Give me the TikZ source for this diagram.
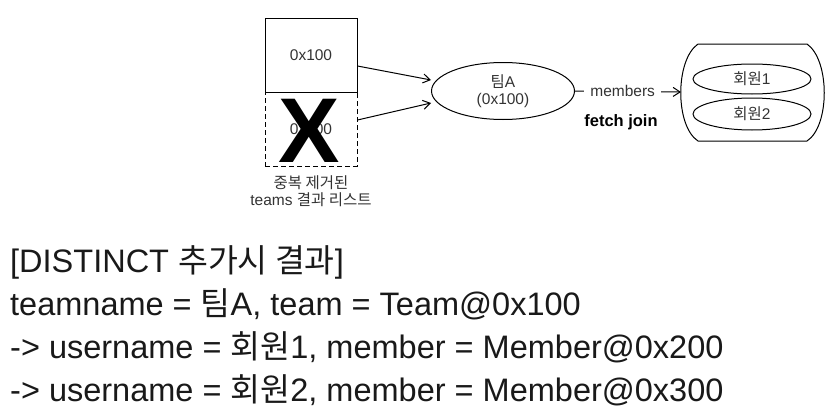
\documentclass[tikz,border=0pt]{standalone}
\usepackage{fontspec}
\setmainfont{Liberation Sans}
\newfontfamily\kr{Noto Sans CJK KR}
\usetikzlibrary{arrows.meta,shapes.geometric}
\tikzset{
  lbl/.style={font=\fontsize{15.5}{17.5}\selectfont, text=black!80, align=center, inner sep=1pt},
  big/.style={font=\fontsize{32.5}{38}\selectfont, text=black!90, anchor=base west, inner sep=0pt},
  box/.style={draw, line width=1pt, minimum width=92pt, minimum height=74pt, inner sep=0pt},
  ell/.style={draw, ellipse, line width=1pt, inner sep=0pt},
  arr/.style={line width=1pt, -{Straight Barb[length=7pt,width=9pt]}}
}
\begin{document}
\begin{tikzpicture}[x=1pt,y=-1pt]
\useasboundingbox (0,0) rectangle (833,415);
% boxes
\node[box, lbl] (b1) at (311,55) {0x100};
\node[box, lbl, dashed, dash pattern=on 5pt off 3pt] (b2) at (311,129) {0x100};
\node[font=\fontsize{92}{92}\selectfont\bfseries, inner sep=0pt, text height=64pt, text depth=0pt] (x) at (309,130) {X};
\node[lbl] (cap) at (311,191) {{\kr 중복 제거된}\\teams {\kr 결과 리스트}};
% team ellipse
\node[ell, minimum width=143pt, minimum height=57pt, lbl] (team) at (503,91) {{\kr 팀}A\\(0x100)};
\draw[arr] (b1.east |- 0,66) -- (team.west |- 0,80);
\draw[arr] (b2.east |- 0,120) -- (team.west |- 0,103);
% container
\draw[line width=1pt] (698,44) -- (807,44) .. controls (830,60) and (830,126) .. (807,141) -- (698,141) .. controls (675,126) and (675,60) .. (698,44) -- cycle;
\coordinate (cont) at (681,92);
\node[ell, minimum width=118pt, minimum height=30pt, lbl] (m1) at (752,79) {{\kr 회원}1};
\node[ell, minimum width=118pt, minimum height=32pt, lbl] (m2) at (752,114) {{\kr 회원}2};
\draw[arr] (team.east) -- node[pos=0.45, fill=white, lbl, inner xsep=6pt, inner ysep=2pt] (mem) {members} (cont);
\node[font=\fontsize{16.5}{19}\selectfont\bfseries] (fj) at (621,122) {fetch join};
% text lines
\node[big] (l1) at (10,272) {[DISTINCT {\kr 추가시 결과}]};
\node[big] (l2) at (10,315) {teamname = {\kr 팀}A, team = Team@0x100};
\node[big] (l3) at (10,358) {-> username = {\kr 회원}1, member = Member@0x200};
\node[big] (l4) at (10,401) {-> username = {\kr 회원}2, member = Member@0x300};
\end{tikzpicture}
\end{document}
